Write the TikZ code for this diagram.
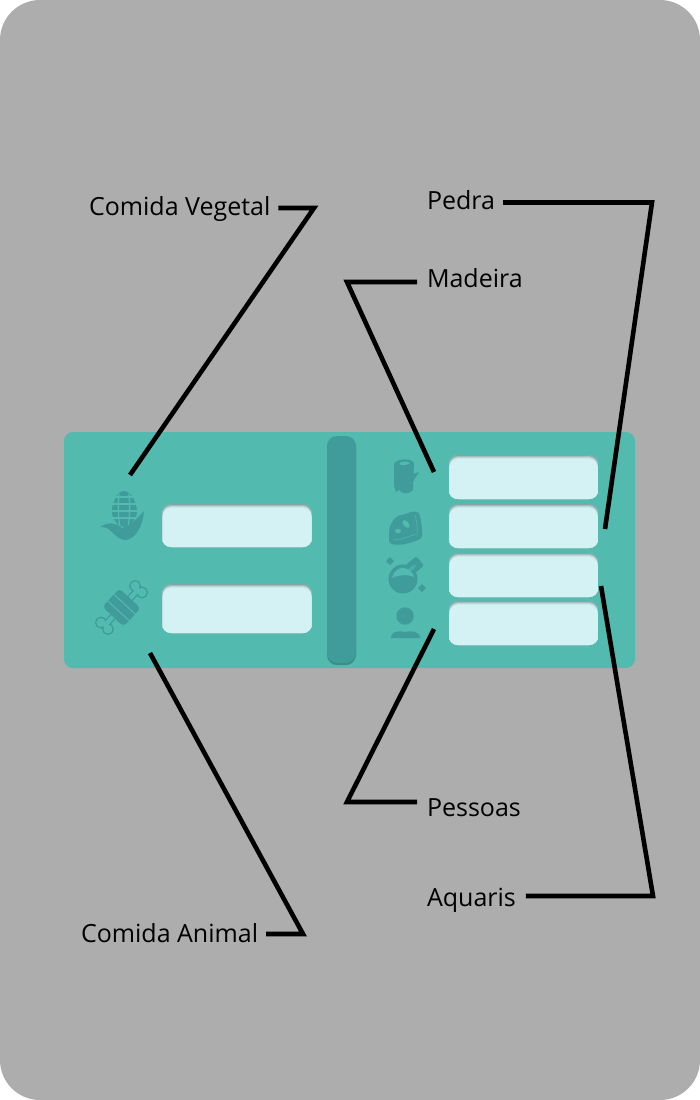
\documentclass[tikz,border=0pt]{standalone}
\usepackage{fontspec}
\setmainfont{Open Sans}
\usetikzlibrary{shadows}

\definecolor{cardgrey}{HTML}{ADADAD}
\definecolor{panelteal}{HTML}{52BAAF}
\definecolor{darkteal}{HTML}{3F9C9A}
\definecolor{slotfill}{HTML}{D4F1F3}
\definecolor{slotedgeA}{HTML}{86A3A6}
\definecolor{slotedgeB}{HTML}{A0BDC0}
\definecolor{slotedgeC}{HTML}{B9D6D8}
\definecolor{slotedgeD}{HTML}{CAE7E9}

\tikzset{
  caption/.style={anchor=west, inner sep=0pt, outer sep=0pt, text height=18pt, text depth=5pt,
    font=\fontsize{25}{28}\selectfont, text=black},
  leader/.style={line width=4.6pt, miter limit=10},
  icon/.style={fill=darkteal, draw=none},
  cutline/.style={draw=panelteal, line width=1.3pt},
  slotbox/.style={rectangle, rounded corners=9pt, minimum width=149.5pt, inner sep=0pt, outer sep=0pt,
    path picture={
      \fill[slotedgeB] (path picture bounding box.south west) rectangle (path picture bounding box.north east);
      \foreach \c/\d in {slotedgeA/0pt, slotedgeB/1pt, slotedgeC/2pt, slotedgeD/3pt, slotfill/4pt}
        \fill[\c, rounded corners=9pt] ([xshift=.5pt, yshift=-\d]path picture bounding box.south west)
          rectangle ([xshift=-.5pt, yshift=-\d]path picture bounding box.north east);
    }},
}

\begin{document}
\begin{tikzpicture}[x=1pt, y=-1pt]
  \useasboundingbox (0,0) rectangle (700,1100);
  \fill[cardgrey, rounded corners=40pt] (0,0) rectangle (700,1100);

  % Panel and divider
  \node[fill=panelteal, rounded corners=9pt, minimum width=571pt, minimum height=236pt, inner sep=0pt] (panel) at (349.5,550) {};
  \node[fill=darkteal, rounded corners=10pt, minimum width=29pt, minimum height=227pt, inner sep=0pt,
    drop shadow={shadow xshift=0pt, shadow yshift=-2pt, opacity=.25, fill=black}] (divider) at (341.5,549.5) {};

  % Slots
  \node[slotbox, minimum width=150pt, minimum height=43pt] (slotVegetal) at (237,525.5) {};
  \node[slotbox, minimum width=150pt, minimum height=49pt] (slotAnimal) at (237,608.5) {};
  \node[slotbox, minimum height=44pt] (slotMadeira) at (523.5,477) {};
  \node[slotbox, minimum height=44pt] (slotPedra) at (523.5,526) {};
  \node[slotbox, minimum height=44pt] (slotAquaris) at (523.5,575) {};
  \node[slotbox, minimum height=44pt] (slotPessoas) at (523.5,623) {};

  % Corn
  \fill[icon] (124,491) .. controls (131,491) and (137,503) .. (137,511)
    .. controls (137,519) and (132,525) .. (124,527) .. controls (116,525) and (112,519) .. (112,511)
    .. controls (112,503) and (117,491) .. (124,491) -- cycle;
  \foreach \yy in {497,504,511,518} \draw[cutline] (110,\yy) -- (139,\yy);
  \draw[cutline] (119,494) .. controls (118,505) and (118,517) .. (120,527);
  \draw[cutline] (129,494) .. controls (130,505) and (130,517) .. (128,527);
  \fill[panelteal] (108,522) -- (124,531) -- (146,508) -- (146,535) -- (108,535) -- cycle;
  \fill[icon] (100,527) .. controls (108,522) and (116,522) .. (122,528)
    .. controls (130,526) and (138,518) .. (144,511) .. controls (143,526) and (135,540) .. (125,540)
    .. controls (115,540) and (112,526) .. (100,527) -- cycle;

  % Meat on the bone
  \begin{scope}[shift={(121.5,607.5)}, rotate=47]
    \foreach \sx in {1,-1} {
      \draw[darkteal, line width=1.5pt] (\sx*25,-4.8) circle (5.2pt) (\sx*25,4.8) circle (5.2pt);
      \draw[darkteal, line width=1.5pt] (\sx*10,-2.8) -- (\sx*22,-2.8) (\sx*10,2.8) -- (\sx*22,2.8);
      \fill[panelteal] (\sx*25,-4.8) circle (4.5pt) (\sx*25,4.8) circle (4.5pt);
      \fill[panelteal] (\sx*10,-2.2) rectangle (\sx*26,2.2);
    }
    \fill[icon, rounded corners=4pt] (-12.5,-14.5) rectangle (12.5,14.5);
    \draw[cutline, line width=1pt] (4.5,-14.5) -- (4.5,14.5);
    \draw[cutline, line width=1pt] (-4.5,-14.5) -- (-4.5,14.5);
  \end{scope}

  % Log
  \fill[icon] (394,464) .. controls (397,458) and (411,458) .. (414,463) -- (413.5,474) -- (419,472)
    .. controls (417,476) and (414,479) .. (413,482) -- (413,490) .. controls (408,495) and (402,494) .. (399,490)
    -- (396,492) -- (394,486) -- cycle;
  \fill[panelteal] (399,464) .. controls (401,461) and (408,461) .. (410,463)
    .. controls (407,465) and (402,466) .. (399,464) -- cycle;

  % Stone
  \fill[icon, rounded corners=2pt] (389,543) .. controls (389,533) and (389,527) .. (392,523) .. controls (394,518) and (398,516) .. (401,515)
    .. controls (407,514) and (412,511) .. (416,512) .. controls (420,513) and (421,520) .. (422,530)
    -- (422,538) .. controls (414,542) and (400,547) .. (389,543) -- cycle;
  \draw[panelteal!55!darkteal, line width=1pt] (415,515) .. controls (417,522) and (418,530) .. (417,534)
    .. controls (410,536) and (400,540) .. (393,540);
  \fill[panelteal, rotate around={-50:(406,524)}] (406,524) ellipse (4.5pt and 2.6pt);
  \fill[panelteal] (398,531) ellipse (3pt and 2.2pt);

  % Potion
  \fill[icon] (403,579) circle (14.5pt);
  \fill[icon, rotate around={40:(414,566)}, rounded corners=1.5pt] (406,560) rectangle (422,572);
  \fill[panelteal!60!darkteal, rotate around={40:(411,569)}] (411,569) ellipse (6.5pt and 1.8pt);
  \fill[panelteal] (392,578) .. controls (393,571) and (401,566) .. (405,568)
    .. controls (410,570) and (414,574) .. (414,577) .. controls (407,574) and (398,575) .. (392,578) -- cycle;
  \fill[icon] (390,557) -- (394,561) -- (390,565) -- (386,561) -- cycle;
  \fill[icon] (422,584) -- (426,588) -- (422,592) -- (418,588) -- cycle;

  % Person
  \fill[icon] (405,616) circle (8.7pt);
  \fill[icon] (390.5,638) .. controls (391,632) and (398,630) .. (405,632)
    .. controls (412,630) and (420,632) .. (420.5,638) -- cycle;

  % Captions
  \node[caption] (lblVegetal) at (89,208.5) {Comida Vegetal};
  \node[caption] (lblPedra) at (427,202.5) {Pedra};
  \node[caption] (lblMadeira) at (427,280.5) {Madeira};
  \node[caption] (lblPessoas) at (427,809.5) {Pessoas};
  \node[caption] (lblAquaris) at (427,899.5) {Aquaris};
  \node[caption] (lblAnimal) at (81,935.5) {Comida Animal};

  % Leader lines
  \coordinate (tipVegetal) at (130,475);
  \coordinate (tipAnimal) at (150,653);
  \coordinate (tipMadeira) at (434,472);
  \coordinate (tipPedra) at (605,529);
  \coordinate (tipPessoas) at (434,629);
  \coordinate (tipAquaris) at (601,586);
  \draw[leader] ([xshift=8pt, yshift=.5pt]lblVegetal.east) -- (314,208) -- (tipVegetal);
  \draw[leader] ([xshift=8pt]lblPedra.east) -- (652,202.5) -- (tipPedra);
  \draw[leader] ([xshift=-10pt, yshift=-1.5pt]lblMadeira.west) -- (347,282) -- (tipMadeira);
  \draw[leader] ([xshift=-10pt, yshift=7.5pt]lblPessoas.west) -- (347,802) -- (tipPessoas);
  \draw[leader] ([xshift=10pt, yshift=3.5pt]lblAquaris.east) -- (653,896) -- (tipAquaris);
  \draw[leader] ([xshift=8pt, yshift=1.5pt]lblAnimal.east) -- (303,934) -- (tipAnimal);
\end{tikzpicture}
\end{document}
